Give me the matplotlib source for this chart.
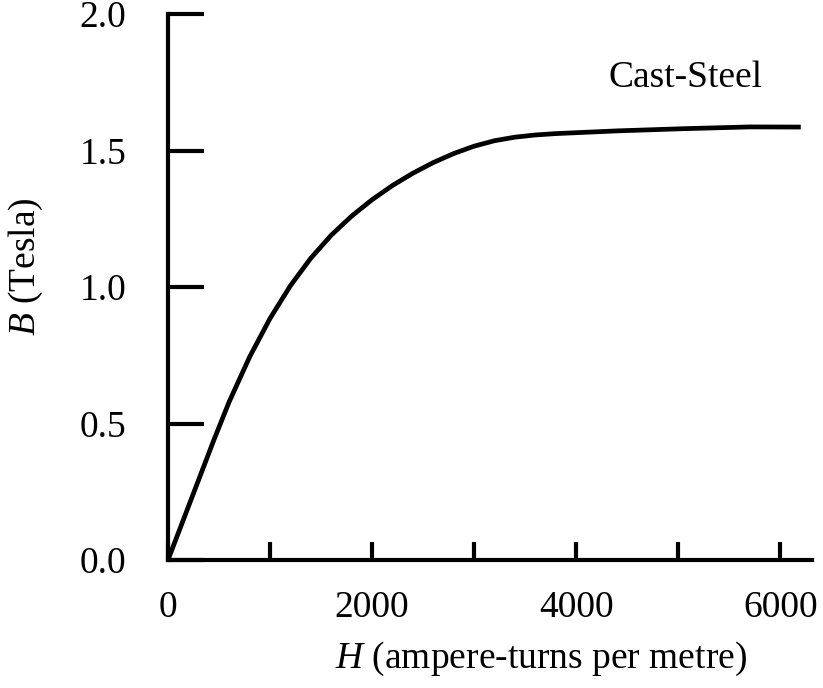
import matplotlib.pyplot as plt
from matplotlib.ticker import FixedLocator

plt.rcParams['font.family'] = ['Liberation Serif', 'DejaVu Serif']
plt.rcParams['mathtext.fontset'] = 'custom'
plt.rcParams['mathtext.rm'] = 'Liberation Serif'
plt.rcParams['mathtext.it'] = 'Liberation Serif:italic'

# B-H magnetisation curve for cast steel
H = [0, 450, 600, 800, 1000, 1200, 1400, 1600, 1800, 2000, 2200, 2400, 2600,
     2800, 3000, 3200, 3400, 3600, 3800, 4400, 5050, 5700, 6200]
B = [0, 0.44, 0.58, 0.744, 0.885, 1.005, 1.106, 1.19, 1.26, 1.32, 1.372, 1.417,
     1.456, 1.489, 1.516, 1.536, 1.549, 1.557, 1.562, 1.572, 1.58, 1.5865, 1.586]

x_major = [0, 2000, 4000, 6000]
x_minor = [1000, 3000, 5000]
y_ticks = [0.0, 0.5, 1.0, 1.5, 2.0]
y_labels = ['0.0', '0.5', '1.0', '1.5', '2.0']

fig = plt.figure(figsize=(8.23, 6.88), dpi=100)
ax = fig.add_axes([0.2041, 0.186, 0.7825, 0.7936])

ax.plot(H, B, color='k', lw=3.4, solid_capstyle='butt', solid_joinstyle='round')

ax.set_xlim(0, 6310)
ax.set_ylim(0, 2.0)

for s in ['top', 'right']:
    ax.spines[s].set_visible(False)
for s in ['left', 'bottom']:
    ax.spines[s].set_linewidth(3)
    ax.spines[s].set_capstyle('projecting')

ax.xaxis.set_major_locator(FixedLocator(x_major))
ax.xaxis.set_minor_locator(FixedLocator(x_minor))
ax.set_xticklabels([str(v) for v in x_major])
ax.set_yticks(y_ticks)
ax.set_yticklabels(y_labels)

ax.tick_params(axis='x', which='both', direction='in', length=13, width=3,
               pad=22, labelsize=27)
ax.tick_params(axis='y', direction='in', length=26, width=3, pad=30, labelsize=27)

ax.set_xlabel(r'$H$ (ampere-turns per metre)', fontsize=27)
ax.set_ylabel(r'$B$ (Tesla)', fontsize=27)
ax.xaxis.set_label_coords(0.579, -0.1465)
ax.yaxis.set_label_coords(-0.191, 0.537)

ax.text(5069, 1.766, 'Cast-Steel', fontsize=27, ha='center', va='center')

fig.savefig('out.png', dpi=100)
